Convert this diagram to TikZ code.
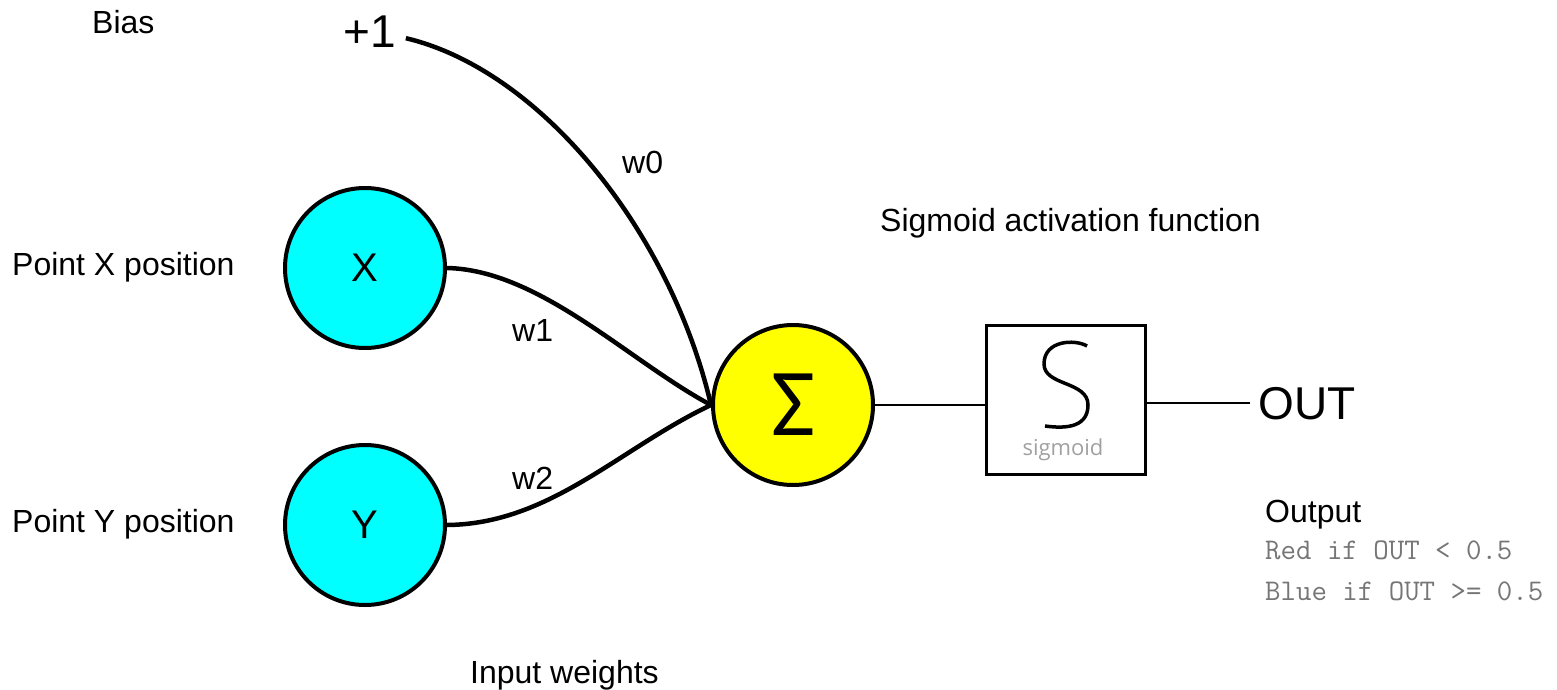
\documentclass[tikz,border=0pt]{standalone}
\usepackage{fontspec}
\setmainfont{Liberation Sans}
\newfontfamily\iconfont{Open Sans}
\newfontfamily\sumfont{Carlito}
\usetikzlibrary{positioning}

\definecolor{incyan}{RGB}{0,255,255}
\definecolor{sumyellow}{RGB}{255,255,0}
\definecolor{notegray}{RGB}{118,118,118}
\definecolor{icongray}{RGB}{160,160,160}

\tikzset{
  unit/.style={circle, draw, line width=4pt, minimum size=160pt, inner sep=0pt,
    font=\fontsize{40}{48}\selectfont},
  txt/.style={anchor=base west, inner sep=0pt, font=\fontsize{32}{38}\selectfont},
  note/.style={anchor=base west, inner sep=0pt, text=notegray,
    font=\ttfamily\fontsize{30}{34}\selectfont},
  weight/.style={line width=4.5pt},
  wire/.style={line width=2.5pt},
}

\begin{document}
\begin{tikzpicture}[x=1pt,y=-1pt]
\useasboundingbox (0,0) rectangle (1557,690);

% inputs
\node[unit,fill=incyan] (x) at (365,268) {X};
\node[unit,fill=incyan] (y) at (365,525) {Y};
\node[anchor=base west, inner sep=0pt, font=\fontsize{46}{52}\selectfont] (bias) at (343,48) {+1};
\node[txt] (biastxt) at (92,34) {Bias};
\node[txt] (xtxt) at (12,275) {Point X position};
\node[txt] (ytxt) at (12,532) {Point Y position};

% sum and sigmoid
\node[unit,fill=sumyellow,font=\sumfont\fontsize{96}{100}\selectfont] (sum) at (793,405) {Σ};
\node[draw, line width=3.5pt, minimum width=159pt, minimum height=149pt] (sigm) at (1066,400) {};
\draw[line width=3.5pt] (1087,346) .. controls (1075,339) and (1044,340) .. (1044,364)
    .. controls (1044,386) and (1088,381) .. (1088,405)
    .. controls (1088,430) and (1060,428) .. (1045,426);
\node[text=icongray, font=\iconfont\fontsize{22}{26}\selectfont] (sigmtxt) at (1063,450) {sigmoid};
\node[anchor=base west, inner sep=8pt, font=\fontsize{46}{52}\selectfont] (out) at (1250,419) {OUT};

% weights
\draw[weight] ([shift={(10,6)}]bias.east) .. controls (540,70) and (670,230) .. (sum.west);
\draw[weight] (x.east) .. controls (540,270) and (630,362) .. (sum.west);
\draw[weight] (y.east) .. controls (550,524) and (620,448) .. (sum.west);
\draw[wire] (sum.east) -- (sum.east -| sigm.west);
\draw[wire] (sigm.east |- out.west) -- (out.west);

\node[txt] (w0) at (622,173) {w0};
\node[txt] (w1) at (512,341) {w1};
\node[txt] (w2) at (512,489) {w2};
\node[txt] (wtxt) at (470,683) {Input weights};
\node[txt] (acttxt) at (880,231) {Sigmoid activation function};

% output
\node[txt] (outtxt) at (1265,522) {Output};
\node[note] (red) at (1265,559) {Red if OUT < 0.5};
\node[note] (blue) at (1265,600) {Blue if OUT >= 0.5};
\end{tikzpicture}
\end{document}
